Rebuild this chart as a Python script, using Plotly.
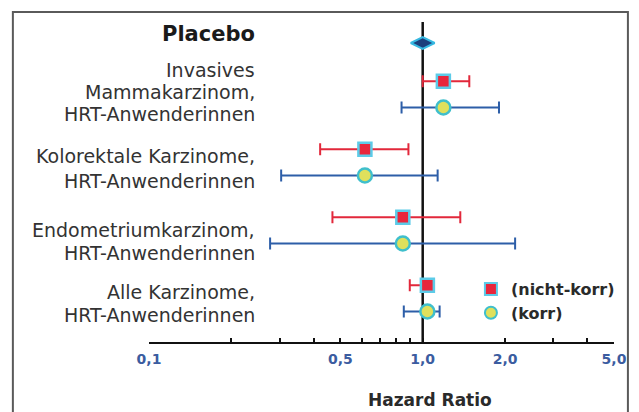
import math
import plotly.graph_objects as go

# ---------------- data ----------------
categories = ["Invasives Mammakarzinom", "Kolorektale Karzinome",
              "Endometriumkarzinom", "Alle Karzinome"]
# nicht-korrigierte Hazard Ratios mit 95%-KI
hr_nk = [1.19, 0.615, 0.846, 1.04]
lo_nk = [1.00, 0.422, 0.468, 0.897]
hi_nk = [1.48, 0.887, 1.372, 1.10]
# korrigierte Hazard Ratios mit KI
hr_k = [1.19, 0.615, 0.846, 1.04]
lo_k = [0.837, 0.304, 0.277, 0.853]
hi_k = [1.90, 1.134, 2.176, 1.153]
placebo_hr = [1.0]

tick_vals = [0.1, 0.2, 0.3, 0.4, 0.5, 0.6, 0.7, 0.8, 0.9, 1, 2, 3, 4, 5]
tick_text = ["0,1", "", "", "", "0,5", "", "", "", "", "1,0", "2,0", "", "", "5,0"]

# ---------------- layout helpers (reference pixel coordinates) ----------------
OX = OY = 8                      # default page body margin
W, H = 639 - OX, 412 - OY
PX0, PX1 = 149, 617              # x pixel of 0.1 and 5.0
PY0, PY1 = 22, 342               # top of plot area, axis line
L, T = PX0 - OX, PY0 - OY
R, B = 639 - PX1, 412 - PY1
PW, PH = PX1 - PX0, PY1 - PY0
ROW0_PX, ROW_PX = 94.35, 68.0


def yrow(py):
    return (py - ROW0_PX) / ROW_PX


def xp(px):
    return (px - PX0) / PW


def yp(py):
    return (PY1 - py) / PH


OFF = 0.194
rows = list(range(len(categories)))
y_nk = [i - OFF for i in rows]
y_k = [i + OFF for i in rows]

RED = "#e2283b"
BLUE = "#2d5ea8"
FONT = "DejaVu Sans"

fig = go.Figure()

fig.add_trace(go.Scatter(
    x=hr_nk, y=y_nk, mode="markers", name="(nicht-korr)",
    marker=dict(symbol="square", size=13, color="#e8263c",
                line=dict(color="#5ccbe8", width=2.5)),
    error_x=dict(type="data", symmetric=False,
                 array=[h - v for h, v in zip(hi_nk, hr_nk)],
                 arrayminus=[v - l for l, v in zip(lo_nk, hr_nk)],
                 color=RED, thickness=2, width=6),
))
fig.add_trace(go.Scatter(
    x=hr_k, y=y_k, mode="markers", name="(korr)",
    marker=dict(symbol="circle", size=14, color="#dfe05c",
                line=dict(color="#3fbfcc", width=2.5)),
    error_x=dict(type="data", symmetric=False,
                 array=[h - v for h, v in zip(hi_k, hr_k)],
                 arrayminus=[v - l for l, v in zip(lo_k, hr_k)],
                 color=BLUE, thickness=2, width=6),
))
fig.add_trace(go.Scatter(
    x=placebo_hr, y=[yrow(43)], mode="markers", name="Placebo",
    showlegend=False,
    marker=dict(symbol="diamond-wide", size=17, color="#1c3f7c",
                line=dict(color="#37b9e2", width=2)),
))

# reference line at HR = 1
fig.add_shape(type="line", xref="x", yref="paper", x0=1, x1=1, y0=0, y1=1,
              line=dict(color="#111111", width=2.5), layer="below")
# outer frame
fig.add_shape(type="rect", xref="paper", yref="paper",
              x0=xp(12), x1=xp(631), y0=yp(440), y1=yp(12),
              line=dict(color="#5a5a5a", width=2), layer="below")

# left labels
label_lines = [
    ("<b>Placebo</b>", 33.5, 21, "#1a1a1a"),
    ("Invasives", 70, 19, "#333333"),
    ("Mammakarzinom,", 92, 19, "#333333"),
    ("HRT-Anwenderinnen", 114, 19, "#333333"),
    ("Kolorektale Karzinome,", 156, 19, "#333333"),
    ("HRT-Anwenderinnen", 181, 19, "#333333"),
    ("Endometriumkarzinom,", 230, 19, "#333333"),
    ("HRT-Anwenderinnen", 253, 19, "#333333"),
    ("Alle Karzinome,", 292, 19, "#333333"),
    ("HRT-Anwenderinnen", 315, 19, "#333333"),
]
for txt, py, fs, col in label_lines:
    fig.add_annotation(text=txt, xref="paper", yref="y", x=xp(258), y=yrow(py),
                       xanchor="right", yanchor="middle", showarrow=False,
                       font=dict(family=FONT, size=fs, color=col))

fig.add_annotation(text="<b>Hazard Ratio</b>", xref="paper", yref="paper",
                   x=xp(432), y=yp(400), xanchor="center", yanchor="middle",
                   showarrow=False, font=dict(family=FONT, size=17, color="#2a2a2a"))

fig.update_layout(
    width=W, height=H,
    margin=dict(l=L, r=R, t=T, b=B, pad=0),
    paper_bgcolor="white", plot_bgcolor="white",
    showlegend=True,
    legend=dict(x=xp(473), y=yp(272), xanchor="left", yanchor="top",
                bgcolor="rgba(0,0,0,0)", borderwidth=0, itemsizing="constant",
                font=dict(family=FONT, size=16, color="#2a2a2a", weight="bold"),
                tracegroupgap=0),
    xaxis=dict(type="log", range=[-1, math.log10(5)], showgrid=False,
               zeroline=False, showline=True, linecolor="#111111", linewidth=2,
               ticks="inside", ticklen=4, tickwidth=1.5, tickcolor="#111111",
               tickmode="array", tickvals=tick_vals, ticktext=tick_text,
               ticklabelstandoff=3,
               tickfont=dict(family=FONT, size=14, color="#3b5ca0", weight="bold"),
               fixedrange=True),
    yaxis=dict(range=[yrow(PY1), yrow(PY0)], visible=False, fixedrange=True),
)

fig.write_html("out.html")
